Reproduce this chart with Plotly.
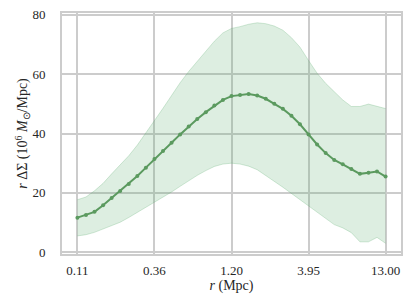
import numpy as np
import plotly.graph_objects as go

r_min, r_max, n_bins = 0.11, 13.0, 37
mean_vals = [11.65, 12.5, 13.6, 15.8, 18.3, 20.6, 23.0, 25.7, 28.5, 31.4,
             34.1, 36.9, 39.7, 42.4, 44.9, 47.2, 49.4, 51.3, 52.6, 53.0,
             53.3, 52.8, 51.7, 50.0, 48.3, 46.0, 43.1, 39.7, 36.3, 33.4,
             31.1, 29.6, 28.0, 26.4, 26.8, 27.2, 25.5]
upper_vals = [17.7, 18.6, 20.7, 23.2, 26.4, 29.4, 32.5, 36.1, 40.1, 44.2,
              48.5, 52.8, 57.1, 60.9, 64.4, 67.9, 71.1, 73.9, 75.4, 76.0,
              76.8, 77.3, 77.0, 76.2, 74.8, 72.3, 69.1, 64.6, 60.3, 56.9,
              54.0, 51.3, 49.1, 49.1, 49.9, 49.1, 48.4]
lower_vals = [5.5, 5.9, 6.7, 7.8, 9.0, 10.1, 11.7, 13.4, 15.1, 16.9,
              18.6, 20.3, 22.2, 24.1, 25.9, 27.5, 28.9, 29.7, 30.0, 29.7,
              29.0, 27.8, 25.9, 23.8, 21.9, 19.8, 17.7, 15.5, 13.2, 11.1,
              9.3, 8.2, 6.6, 3.5, 3.5, 5.0, 3.0]
x_tick_vals = [0.11, 0.3627, 1.196, 3.943, 13.0]
x_tick_text = ["0.11", "0.36", "1.20", "3.95", "13.00"]
y_tick_vals = [0, 20, 40, 60, 80]

r = np.logspace(np.log10(r_min), np.log10(r_max), n_bins)

green = "#5b9a5f"
fill = "rgba(85,168,104,0.2)"
font = "Liberation Serif"

fig = go.Figure()
fig.add_trace(go.Scatter(x=r, y=upper_vals, mode="lines",
                         line=dict(color="rgba(85,168,104,0.25)", width=1),
                         showlegend=False, hoverinfo="skip"))
fig.add_trace(go.Scatter(x=r, y=lower_vals, mode="lines",
                         line=dict(color="rgba(85,168,104,0.25)", width=1),
                         fill="tonexty", fillcolor=fill,
                         showlegend=False, hoverinfo="skip"))
fig.add_trace(go.Scatter(x=r, y=mean_vals, mode="lines+markers",
                         line=dict(color=green, width=2),
                         marker=dict(color=green, size=4),
                         showlegend=False))

lo = np.log10(r_min)
hi = np.log10(r_max)
pad = 0.05 * (hi - lo)

# page body has an 8px default margin; compensate in figure size/margins
fig.update_layout(
    width=405, height=299,
    margin=dict(l=54, r=12, t=5, b=53),
    plot_bgcolor="white", paper_bgcolor="white",
    font=dict(family=font, size=13, color="#262626"),
    xaxis=dict(type="log", range=[lo - pad, hi + pad], automargin=False,
               tickvals=x_tick_vals, ticktext=x_tick_text,
               ticklabeloverflow="allow",
               showgrid=True, gridcolor="#cccccc", gridwidth=1.5,
               showline=True, linecolor="#cccccc", linewidth=2, mirror=True,
               ticks="outside", ticklen=3, tickcolor="rgba(0,0,0,0)",
               zeroline=False,
               title=dict(text="<i>r</i> (Mpc)", font=dict(family=font, size=14), standoff=0)),
    yaxis=dict(range=[-0.6, 80.6], tickvals=y_tick_vals, automargin=False,
               ticklabeloverflow="allow",
               showgrid=True, gridcolor="#cccccc", gridwidth=1.5,
               showline=True, linecolor="#cccccc", linewidth=2, mirror=True,
               ticks="outside", ticklen=12, tickcolor="rgba(0,0,0,0)",
               zeroline=False,
               title=dict(text="<i>r</i> ΔΣ (10<sup>6</sup> <i>M</i><sub>⊙</sub>/Mpc)",
                          font=dict(family=font, size=14), standoff=0)),
)

fig.write_html("out.html")
